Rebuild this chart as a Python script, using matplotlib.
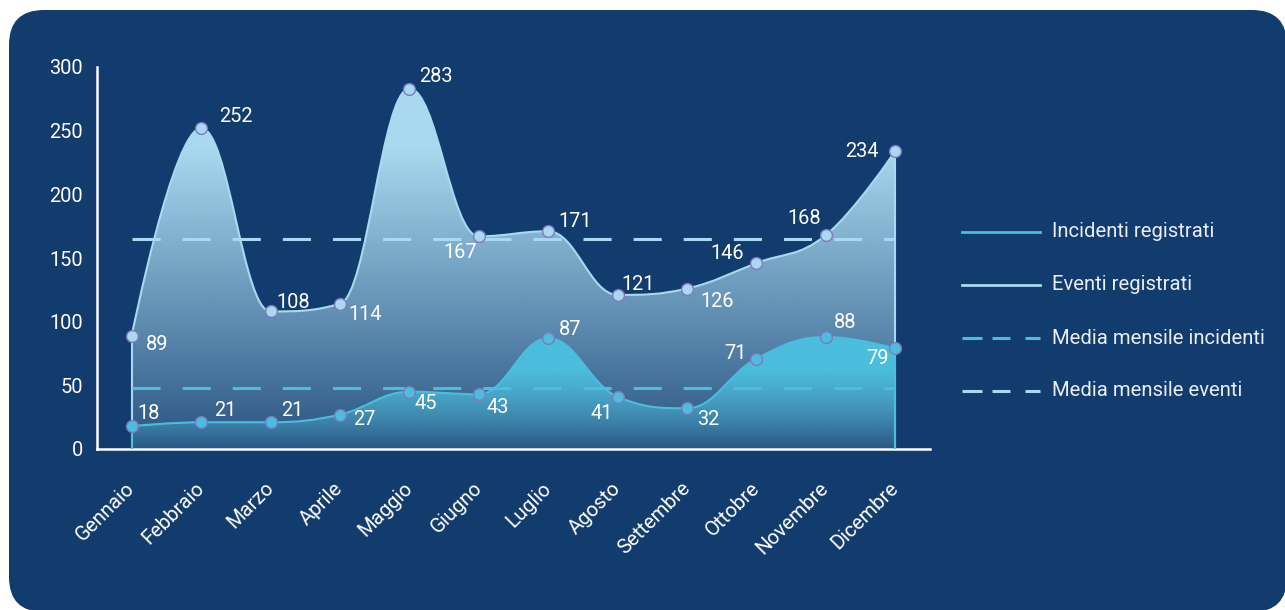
import numpy as np
import matplotlib
matplotlib.use("Agg")
import matplotlib.pyplot as plt
from matplotlib.path import Path
from matplotlib.patches import PathPatch, FancyBboxPatch
from matplotlib.lines import Line2D

# ---- data ----
months = ["Gennaio", "Febbraio", "Marzo", "Aprile", "Maggio", "Giugno",
          "Luglio", "Agosto", "Settembre", "Ottobre", "Novembre", "Dicembre"]
incidenti = [18, 21, 21, 27, 45, 43, 87, 41, 32, 71, 88, 79]
eventi = [89, 252, 108, 114, 283, 167, 171, 121, 126, 146, 168, 234]
y_ticks = [0, 50, 100, 150, 200, 250, 300]
legend_labels = ["Incidenti registrati", "Eventi registrati",
                 "Media mensile incidenti", "Media mensile eventi"]

# label offsets (pixels) for the value annotations
off_eventi = [(25, -9), (35, 12), (23, 9), (25, -11), (27, 12), (-19, -16),
              (27, 10), (20, 10), (30, -13), (-29, 10), (-22, 17), (-33, 0)]
off_incidenti = [(17, 13), (24, 12), (22, 12), (24, -5), (16, -12), (19, -13),
                 (22, 9), (-16, -17), (21, -11), (-21, 5), (19, 14), (-18, -10)]

# ---- style ----
BG = "#123c6e"
C_EV = "#a9d9f0"
C_IN = "#4bbddd"
C_EDGE = "#8278be"
FONT = "Roboto"
plt.rcParams["font.family"] = [FONT, "DejaVu Sans"]

fig = plt.figure(figsize=(12.85, 6.10), dpi=100, facecolor="white")

card = FancyBboxPatch((0.09, -0.02), 12.78, 6.02,
                      boxstyle="round,pad=0,rounding_size=0.35",
                      transform=fig.dpi_scale_trans, facecolor=BG,
                      edgecolor="none", zorder=-10)
fig.patches.append(card)

ax = fig.add_axes([97 / 1285, 1 - 449 / 610, 833 / 1285, 382 / 610])
ax.set_facecolor("none")


def spline_points(xs, ys, smoothing=1.5):
    """Bezier control points for a smooth curve through (xs, ys)."""
    n = len(xs)
    denom = smoothing + 1
    left = [(x, y) for x, y in zip(xs, ys)]
    right = [(x, y) for x, y in zip(xs, ys)]
    for i in range(1, n - 1):
        px, py = xs[i], ys[i]
        lx, ly = xs[i - 1], ys[i - 1]
        nx, ny = xs[i + 1], ys[i + 1]
        lcx = (smoothing * px + lx) / denom
        lcy = (smoothing * py + ly) / denom
        rcx = (smoothing * px + nx) / denom
        rcy = (smoothing * py + ny) / denom
        corr = (rcy - lcy) * (rcx - px) / (rcx - lcx) + py - rcy
        lcy += corr
        rcy += corr
        if lcy > ly and lcy > py:
            lcy = max(ly, py)
            rcy = 2 * py - lcy
        elif lcy < ly and lcy < py:
            lcy = min(ly, py)
            rcy = 2 * py - lcy
        if rcy > ny and rcy > py:
            rcy = max(ny, py)
            lcy = 2 * py - rcy
        elif rcy < ny and rcy < py:
            rcy = min(ny, py)
            lcy = 2 * py - rcy
        left[i] = (lcx, lcy)
        right[i] = (rcx, rcy)
    verts = [(xs[0], ys[0])]
    codes = [Path.MOVETO]
    for i in range(1, n):
        verts += [right[i - 1], left[i], (xs[i], ys[i])]
        codes += [Path.CURVE4] * 3
    return verts, codes


def gradient_area(xs, ys, color, a_low, a_high, y_full, z):
    verts, codes = spline_points(xs, ys)
    line_path = Path(verts, codes)
    fverts = verts + [(xs[-1], 0), (xs[0], 0), (xs[0], ys[0])]
    fcodes = codes + [Path.LINETO, Path.LINETO, Path.CLOSEPOLY]
    clip = PathPatch(Path(fverts, fcodes), transform=ax.transData,
                     facecolor="none", edgecolor="none")
    ax.add_patch(clip)
    yy = np.linspace(0, 300, 600)
    alpha = np.clip(a_low + (a_high - a_low) * yy / y_full, 0, a_high)
    rgb = np.array(matplotlib.colors.to_rgb(color))
    img = np.zeros((len(yy), 1, 4))
    img[:, 0, :3] = rgb
    img[:, 0, 3] = alpha
    im = ax.imshow(img, extent=(-0.5, 11.5, 0, 300), origin="lower",
                   aspect="auto", interpolation="bilinear", zorder=z)
    im.set_clip_path(clip)
    ax.add_patch(PathPatch(line_path, transform=ax.transData,
                           facecolor="none", edgecolor=color, lw=1.5,
                           zorder=z + 0.5))
    ax.vlines([xs[0], xs[-1]], 0, [ys[0], ys[-1]], colors=color, lw=1.5,
              zorder=z + 0.5)


x = np.arange(len(months))
gradient_area(list(x), eventi, C_EV, 0.15, 1.0, 235, 2)
gradient_area(list(x), incidenti, C_IN, 0.05, 1.0, 62, 3)
ax.set_xlim(-0.5, 11.5)
ax.set_ylim(0, 300)

# monthly averages
dash_w = 2.2
media_inc = np.mean(incidenti)
media_ev = np.mean(eventi)
ax.plot([x[0], x[-1]], [media_ev, media_ev], color=C_EV, lw=dash_w,
        dashes=(9.2, 7.2), solid_capstyle="butt", zorder=4)
ax.plot([x[0], x[-1]], [media_inc, media_inc], color=C_IN, lw=dash_w,
        dashes=(9.2, 7.2), solid_capstyle="butt", zorder=4)

# markers
ax.plot(x, eventi, "o", ms=8.5, mfc=C_EV, mec=C_EDGE, mew=1.0, zorder=6)
ax.plot(x, incidenti, "o", ms=8.5, mfc=C_IN, mec=C_EDGE, mew=1.0, zorder=6)

# value labels
for xi, v, (dx, dy) in zip(x, eventi, off_eventi):
    ax.annotate(str(v), (xi, v), xytext=(dx, dy), textcoords="offset pixels",
                ha="center", va="center", color="white", fontsize=14.4,
                zorder=7)
for xi, v, (dx, dy) in zip(x, incidenti, off_incidenti):
    ax.annotate(str(v), (xi, v), xytext=(dx, dy), textcoords="offset pixels",
                ha="center", va="center", color="white", fontsize=14.4,
                zorder=7)

# axes styling
for side in ("top", "right"):
    ax.spines[side].set_visible(False)
for side in ("left", "bottom"):
    ax.spines[side].set_color("white")
    ax.spines[side].set_linewidth(1.8)
ax.set_yticks(y_ticks)
ax.set_yticklabels([str(t) for t in y_ticks], color="white", fontsize=14.4)
ax.set_xticks(x)
ax.set_xticklabels(months, rotation=45, ha="right", va="center",
                   rotation_mode="anchor", color="white", fontsize=14.6)
ax.tick_params(axis="both", length=0)
ax.tick_params(axis="y", pad=10)
ax.tick_params(axis="x", pad=26)

# legend
rows_y = [232, 285, 338, 391]
styles = [(C_IN, None), (C_EV, None), (C_IN, (20, 10)), (C_EV, (20, 10))]
for (col, dash), label, ry in zip(styles, legend_labels, rows_y):
    fy = 1 - ry / 610
    if dash is None:
        fig.add_artist(Line2D([962 / 1285, 1040 / 1285], [fy, fy], color=col,
                              lw=2.0, transform=fig.transFigure))
    else:
        for s, e in ((962, 982), (992, 1010), (1025, 1040)):
            fig.add_artist(Line2D([s / 1285, e / 1285], [fy, fy], color=col,
                                  lw=2.2, solid_capstyle="butt",
                                  transform=fig.transFigure))
    fig.text(1052 / 1285, fy, label, color="#e9eef6", fontsize=14.6,
             ha="left", va="center")

fig.savefig("out.png", dpi=100, facecolor="white")
